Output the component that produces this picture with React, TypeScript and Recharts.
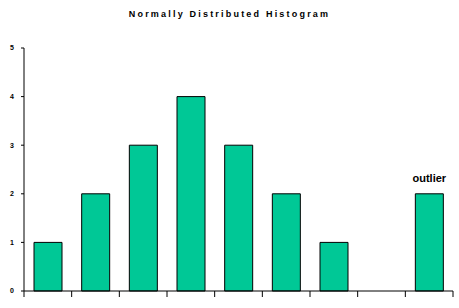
import React from "react";
import { BarChart, Bar, XAxis, YAxis, LabelList } from "recharts";

const categories = ["1", "2", "3", "4", "5", "6", "7", "8", "9"];
const counts = [1, 2, 3, 4, 3, 2, 1, 0, 2];
const labels = ["", "", "", "", "", "", "", "", "outlier"];
const yTicks = [0, 1, 2, 3, 4, 5];
const xBoundaryTicks = [0, 1, 2, 3, 4, 5, 6, 7, 8, 9];

const data = categories.map((c, i) => ({ cat: c, value: counts[i], label: labels[i], pos: i + 0.5 }));

const EmptyTick = () => <g />;

export default function App() {
  return (
    <div style={{ position: "absolute", left: 0, top: 0, width: 459, height: 308, background: "#fff" }}>
      <div
        style={{
          position: "absolute",
          left: 0,
          top: 9,
          width: 459,
          textAlign: "center",
          fontFamily: "Arial, 'Liberation Sans', sans-serif",
          fontWeight: "bold",
          fontSize: 9,
          letterSpacing: 2.2,
          color: "#000",
        }}
      >
        Normally Distributed Histogram
      </div>
      <BarChart
        width={459}
        height={308}
        data={data}
        margin={{ top: 48, right: 6, bottom: 0, left: 0 }}
        barCategoryGap="21%"
      >
        <XAxis dataKey="cat" xAxisId="cat" hide />
        <XAxis
          xAxisId="bounds"
          type="number"
          dataKey="pos"
          domain={[0, 9]}
          ticks={xBoundaryTicks}
          interval={0}
          tick={EmptyTick}
          tickSize={6}
          height={17}
          axisLine={{ stroke: "#000", strokeWidth: 1 }}
          tickLine={{ stroke: "#000", strokeWidth: 1 }}
          allowDataOverflow
        />
        <YAxis
          width={24}
          domain={[0, 5]}
          ticks={yTicks}
          tickSize={3}
          tickMargin={7}
          interval={0}
          axisLine={{ stroke: "#000", strokeWidth: 1 }}
          tickLine={{ stroke: "#000", strokeWidth: 1 }}
          tick={{ fill: "#000", fontSize: 7, fontWeight: "bold", fontFamily: "Arial, 'Liberation Sans', sans-serif" }}
        />
        <Bar
          dataKey="value"
          xAxisId="cat"
          fill="#00C896"
          stroke="#000"
          strokeWidth={1}
          isAnimationActive={false}
        >
          <LabelList
            dataKey="label"
            position="top"
            offset={12}
            fill="#000"
            style={{ fontSize: 11, fontWeight: "bold", fontFamily: "Arial, 'Liberation Sans', sans-serif" }}
          />
        </Bar>
      </BarChart>
    </div>
  );
}
